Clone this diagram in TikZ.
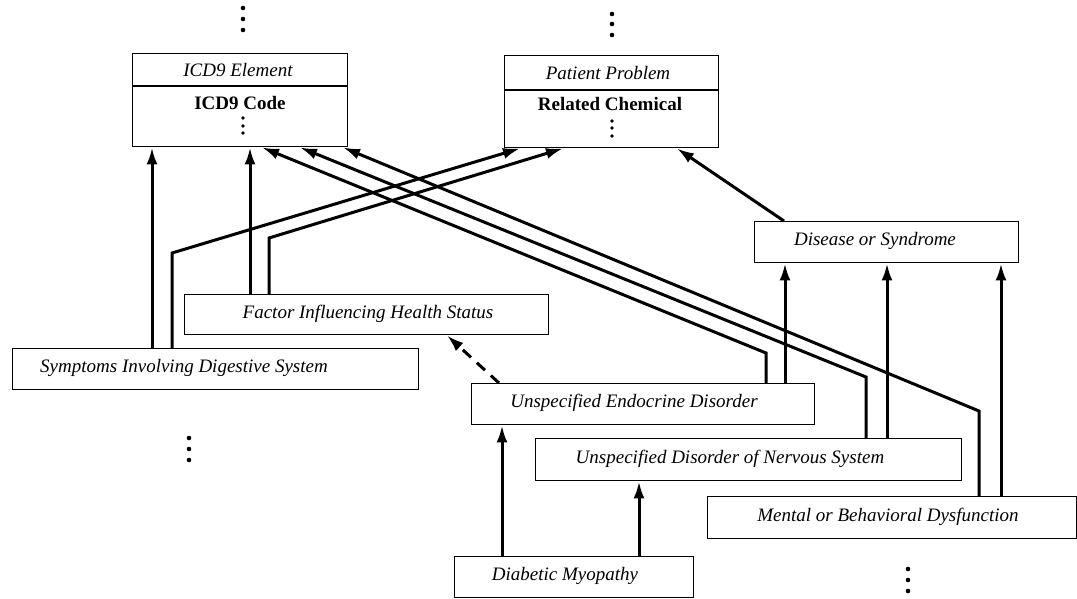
\documentclass[tikz,border=0pt]{standalone}
\usepackage{fontspec}
\setmainfont{Liberation Serif}
\usetikzlibrary{arrows.meta}
\begin{document}
\begin{tikzpicture}[x=1pt,y=-1pt,
  box/.style={draw,line width=1.4pt,rectangle,inner sep=0pt,anchor=north west},
  lbl/.style={font=\fontsize{19}{22}\selectfont\itshape,inner sep=0pt},
  blbl/.style={font=\fontsize{19}{22}\selectfont\bfseries,inner sep=0pt},
  arr/.style={line width=3pt,-{Latex[length=17pt,width=11pt]}},
  darr/.style={arr,dash pattern=on 11pt off 8pt},
  bigdot/.style={fill,circle,inner sep=0pt,minimum size=4.6pt},
  smalldot/.style={fill,circle,inner sep=0pt,minimum size=3.6pt}]
\useasboundingbox (0,0) rectangle (1077,598);
% boxes
\node[box,minimum width=215pt,minimum height=93pt] (icd) at (132,53) {};
\draw[line width=1.2pt] (icd.west |- 0,86) -- (icd.east |- 0,86);
\node[lbl] (icdh) at (238,70) {ICD9 Element};
\node[blbl] (icdc) at (240,103) {ICD9 Code};
\node[smalldot] (icd1) at (243,118) {};
\node[smalldot] (icd2) at (243,126) {};
\node[smalldot] (icd3) at (243,133) {};

\node[box,minimum width=214pt,minimum height=92pt] (pat) at (504,55) {};
\draw[line width=1.2pt] (pat.west |- 0,90) -- (pat.east |- 0,90);
\node[lbl] (path) at (608,73) {Patient Problem};
\node[blbl] (patc) at (610,104) {Related Chemical};
\node[smalldot] (pat1) at (612,121) {};
\node[smalldot] (pat2) at (612,128) {};
\node[smalldot] (pat3) at (612,136) {};

\node[box,minimum width=264pt,minimum height=41pt] (dis) at (754,221) {};
\node[lbl] at (875,241) {Disease or Syndrome};
\node[box,minimum width=364pt,minimum height=40pt] (fac) at (184,294) {};
\node[lbl] at (368,314) {Factor Influencing Health Status};
\node[box,minimum width=406pt,minimum height=41pt] (sym) at (12,348) {};
\node[lbl] at (184,368) {Symptoms Involving Digestive System};
\node[box,minimum width=343pt,minimum height=41pt] (endo) at (471,383) {};
\node[lbl] at (634,403) {Unspecified Endocrine Disorder};
\node[box,minimum width=426pt,minimum height=42pt] (nerv) at (535,438) {};
\node[lbl] at (730,459) {Unspecified Disorder of Nervous System};
\node[box,minimum width=369pt,minimum height=42pt] (ment) at (707,496) {};
\node[lbl] at (888,517) {Mental or Behavioral Dysfunction};
\node[box,minimum width=239pt,minimum height=41pt] (diab) at (454,556) {};
\node[lbl] at (565,576) {Diabetic Myopathy};

% ellipsis dots
\node[bigdot] (t1) at (243,8) {};
\node[bigdot] (t2) at (243,19) {};
\node[bigdot] (t3) at (243,30) {};
\node[bigdot] (u1) at (612,14) {};
\node[bigdot] (u2) at (612,24) {};
\node[bigdot] (u3) at (612,35) {};
\node[bigdot] (l1) at (189,438) {};
\node[bigdot] (l2) at (189,449) {};
\node[bigdot] (l3) at (189,460) {};
\node[bigdot] (r1) at (908,569) {};
\node[bigdot] (r2) at (908,580) {};
\node[bigdot] (r3) at (908,591) {};

% connectors
\draw[arr] ([xshift=140pt]sym.north west) -- ([xshift=20pt]icd.south west);
\draw[arr] ([xshift=66pt]fac.north west) -- ([xshift=118pt]icd.south west);
\draw[arr] ([xshift=160pt]sym.north west) -- ++(0,-95) -- ([xshift=16pt]pat.south west);
\draw[arr] ([xshift=85pt]fac.north west) -- ++(0,-56) -- ([xshift=59pt]pat.south west);
\draw[arr] ([xshift=295pt]endo.north west) -- ++(0,-30) -- ([xshift=130pt]icd.south west);
\draw[arr] ([xshift=331pt]nerv.north west) -- ++(0,-61) -- ([xshift=168pt]icd.south west);
\draw[arr] ([xshift=272pt]ment.north west) -- ++(0,-85) -- ([xshift=211pt]icd.south west);
\draw[arr] ([xshift=30pt]dis.north west) -- ([xshift=173pt]pat.south west);
\draw[arr] ([xshift=314pt]endo.north west) -- ([xshift=31pt]dis.south west);
\draw[arr] ([xshift=352pt]nerv.north west) -- ([xshift=133pt]dis.south west);
\draw[arr] ([xshift=294pt]ment.north west) -- ([xshift=247pt]dis.south west);
\draw[darr] ([xshift=28pt]endo.north west) -- ([xshift=263pt]fac.south west);
\draw[arr] ([xshift=48pt]diab.north west) -- ([xshift=31pt]endo.south west);
\draw[arr] ([xshift=185pt]diab.north west) -- ([xshift=104pt]nerv.south west);
\end{tikzpicture}
\end{document}
